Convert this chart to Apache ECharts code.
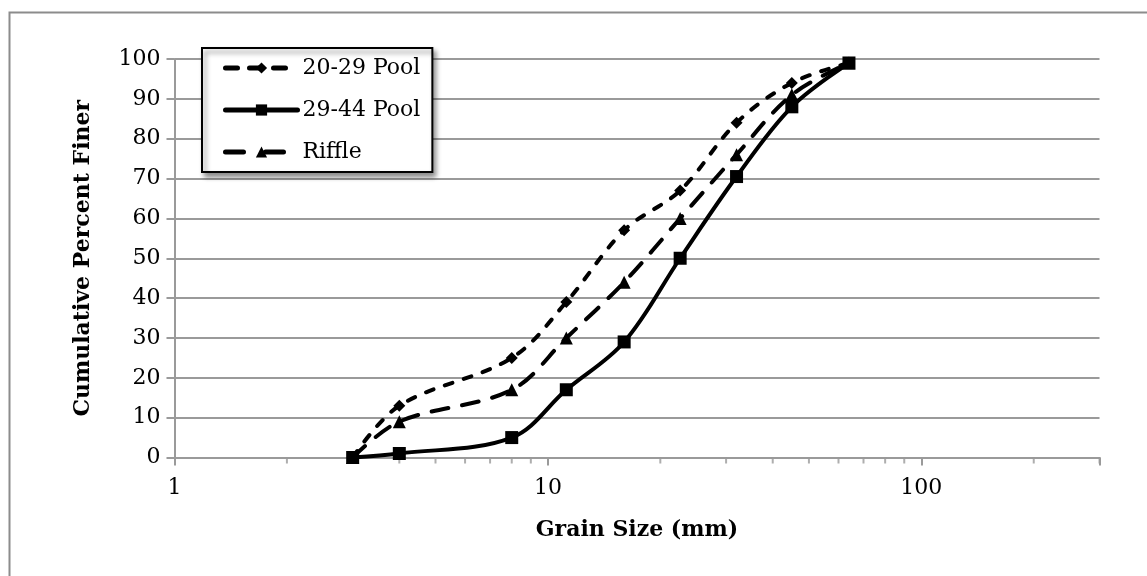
<!DOCTYPE html>
<html>
<head>
<meta charset="utf-8">
<script src="https://cdn.jsdelivr.net/npm/echarts@6/dist/echarts.min.js"></script>
<style>
  html, body { margin: 0; padding: 0; background: #fff; }
  #chart { width: 1147px; height: 576px; }
</style>
</head>
<body>
<div id="chart"></div>
<script>
// Sieve sizes (mm) shared by all three samples
const grainSizes = [3, 4, 8, 11.2, 16, 22.6, 32, 45, 64];
// Cumulative percent finer for each sample
const pool2029 = [0, 13, 25, 39, 57, 67, 84, 94, 99];
const pool2944 = [0, 1, 5, 17, 29, 50, 70.5, 88, 99];
const riffle = [0, 9, 17, 30, 44, 60, 76, 91, 99];
// Minor tick positions on the log axis
const minorTicks = [2, 3, 4, 5, 6, 7, 8, 9, 20, 30, 40, 50, 60, 70, 80, 90, 200, 300];
const majorLabels = [1, 10, 100];

const FONT = 'DejaVu Serif';
const GRID = '#9a9a9a';
const LINE_W = 4;

function pairs(ys) { return grainSizes.map((x, i) => [x, ys[i]]); }

const chart = echarts.init(document.getElementById('chart'), null, { renderer: 'canvas' });

chart.setOption({
  animation: false,
  backgroundColor: '#ffffff',
  graphic: [{
    type: 'rect',
    left: 7, top: 10,
    shape: { width: 1220, height: 620 },
    style: { fill: 'none', stroke: '#8c8c8c', lineWidth: 2 },
    silent: true
  }],
  grid: { left: 174.5, right: 47.5, top: 59, bottom: 118.5 },
  legend: {
    data: [
      { name: '20-29 Pool', lineStyle: { width: 5, type: [12, 12], cap: 'round' } },
      { name: '29-44 Pool', lineStyle: { width: 5, cap: 'round' } },
      { name: 'Riffle', lineStyle: { width: 5, type: [18, 22], cap: 'round' } }
    ],
    orient: 'vertical',
    left: 202, top: 48,
    padding: [9, 12, 9, 21],
    itemGap: 20,
    itemWidth: 72,
    itemHeight: 14,
    backgroundColor: '#ffffff',
    borderColor: '#000000',
    borderWidth: 2,
    shadowColor: 'rgba(0,0,0,0.45)',
    shadowBlur: 5,
    shadowOffsetX: 3,
    shadowOffsetY: 4,
    textStyle: { fontFamily: FONT, fontSize: 22, color: '#000' }
  },
  xAxis: {
    type: 'log',
    logBase: 10,
    min: 1,
    max: 300,
    name: 'Grain Size (mm)',
    nameLocation: 'middle',
    nameGap: 62,
    nameTextStyle: { fontFamily: FONT, fontSize: 22, fontWeight: 'bold', color: '#000' },
    axisLine: { show: true, lineStyle: { color: GRID, width: 2 } },
    axisTick: { show: true, inside: false, length: 8, lineStyle: { color: GRID, width: 2 } },
    axisLabel: {
      margin: 20,
      fontFamily: FONT, fontSize: 22, color: '#000',
      formatter: v => (majorLabels.some(m => Math.abs(m - v) < 1e-6) ? String(Math.round(v)) : '')
    },
    splitLine: { show: false }
  },
  yAxis: {
    type: 'value',
    min: 0, max: 100, interval: 10,
    name: 'Cumulative Percent Finer',
    nameLocation: 'middle',
    nameGap: 80,
    nameRotate: 90,
    nameTextStyle: { fontFamily: FONT, fontSize: 22, fontWeight: 'bold', color: '#000' },
    axisLine: { show: true, lineStyle: { color: GRID, width: 2 } },
    axisTick: { show: true, inside: false, length: 8, lineStyle: { color: GRID, width: 2 } },
    axisLabel: { margin: 14, fontFamily: FONT, fontSize: 22, color: '#000' },
    splitLine: { show: true, lineStyle: { color: GRID, width: 2 } }
  },
  series: [
    {
      name: 'ticks',
      type: 'scatter',
      data: minorTicks.map(v => [v, 0]),
      symbol: 'rect',
      symbolSize: [2, 6],
      symbolOffset: [0, 3],
      itemStyle: { color: GRID },
      clip: false,
      silent: true,
      z: 1
    },
    {
      name: '29-44 Pool',
      type: 'line',
      data: pairs(pool2944),
      smooth: 0.35,
      symbol: 'rect',
      symbolSize: 13,
      itemStyle: { color: '#000' },
      lineStyle: { color: '#000', width: LINE_W, cap: 'round', join: 'round' },
      z: 3
    },
    {
      name: 'Riffle',
      type: 'line',
      data: pairs(riffle),
      smooth: 0.35,
      symbol: 'triangle',
      symbolSize: 13,
      itemStyle: { color: '#000' },
      lineStyle: { color: '#000', width: LINE_W, type: [17, 14], cap: 'round', join: 'round' },
      z: 3
    },
    {
      name: '20-29 Pool',
      type: 'line',
      data: pairs(pool2029),
      smooth: 0.35,
      symbol: 'diamond',
      symbolSize: 12,
      itemStyle: { color: '#000' },
      lineStyle: { color: '#000', width: LINE_W, type: [8, 12], cap: 'round', join: 'round' },
      z: 3
    }
  ]
});
</script>
</body>
</html>
